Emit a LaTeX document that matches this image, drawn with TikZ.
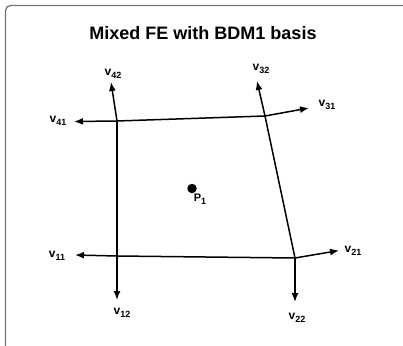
\documentclass[tikz,border=0pt]{standalone}
\usepackage{fontspec}
\setmainfont{Liberation Sans}
\usetikzlibrary{arrows.meta}
\newcommand{\vlab}[1]{{\fontsize{12}{12}\selectfont\bfseries v\raisebox{-2.8pt}{\fontsize{9}{9}\selectfont #1}}}
\tikzset{
  frame/.style={draw=black!55, line width=1.3pt, rounded corners=5pt},
  edge/.style={line width=1.5pt},
  vec/.style={line width=1.5pt, -{Latex[length=9pt,width=7pt]}},
  lbl/.style={inner sep=0pt, font=\bfseries}
}
\begin{document}
\begin{tikzpicture}[x=1pt,y=-1pt]
\useasboundingbox (0,0) rectangle (403,345);
\path[frame] (5.5,360) -- (5.5,5.5) -- (420,5.5);
\node[lbl, font=\fontsize{18}{18}\selectfont\bfseries] (title) at (203,33) {Mixed FE with BDM1 basis};
% vertices
\coordinate (V1) at (117,256);
\coordinate (V2) at (295,258);
\coordinate (V3) at (265,116);
\coordinate (V4) at (117,121);
% arrow tips
\coordinate (T11) at (75,255);
\coordinate (T12) at (117,300);
\coordinate (T21) at (339,250.5);
\coordinate (T22) at (295,302);
\coordinate (T31) at (309,108);
\coordinate (T32) at (257,81);
\coordinate (T41) at (74,121.5);
\coordinate (T42) at (111,82);
% edges
\draw[edge] (V4) -- (V1);
\draw[edge] (V3) -- (V2);
\draw[edge] (V4) -- (V3);
\draw[edge] (V1) -- (V2);
\draw[vec] (V4) -- (T41);
\draw[vec] (V3) -- (T31);
\draw[vec] (V1) -- (T11);
\draw[vec] (V2) -- (T21);
\draw[vec] (V4) -- (T42);
\draw[vec] (V1) -- (T12);
\draw[vec] (V3) -- (T32);
\draw[vec] (V2) -- (T22);
% center point
\node[circle, fill=black, inner sep=0pt, minimum size=9.5pt] (P) at (192,188.5) {};
\node[lbl] (Plab) at (200,199.5) {\fontsize{11}{11}\selectfont P\raisebox{-2.8pt}{\fontsize{9}{9}\selectfont 1}};
% labels
\node[lbl] (L41) at (58,121) {\vlab{41}};
\node[lbl] (L42) at (113,74) {\vlab{42}};
\node[lbl] (L32) at (261,69) {\vlab{32}};
\node[lbl] (L31) at (327,105) {\vlab{31}};
\node[lbl] (L11) at (57,256) {\vlab{11}};
\node[lbl] (L12) at (122,313) {\vlab{12}};
\node[lbl] (L21) at (353,251) {\vlab{21}};
\node[lbl] (L22) at (297,318) {\vlab{22}};
\end{tikzpicture}
\end{document}
